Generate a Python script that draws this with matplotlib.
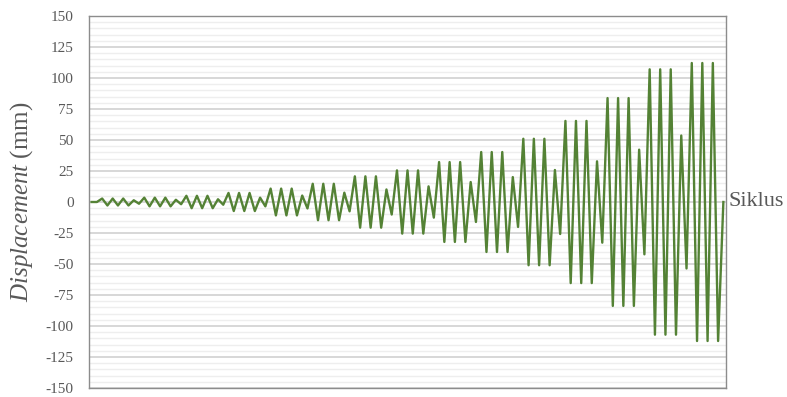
import matplotlib
matplotlib.use("Agg")
import matplotlib.pyplot as plt
from matplotlib.ticker import MultipleLocator

# Cyclic loading history: each level = 3 full cycles + 1 smaller cycle
lead_in = [0, 0]
level_1 = [2.8, -2.8, 2.8, -2.8, 2.8, -2.8, 1.4, -1.4]
level_2 = [3.5, -3.5, 3.5, -3.5, 3.5, -3.5, 1.8, -1.8]
level_3 = [5.0, -5.0, 5.0, -5.0, 5.0, -5.0, 2.2, -2.2]
level_4 = [7.3, -7.3, 7.3, -7.3, 7.3, -7.3, 3.5, -3.5]
level_5 = [10.8, -10.8, 10.8, -10.8, 10.8, -10.8, 5.2, -5.2]
level_6 = [14.7, -14.7, 14.7, -14.7, 14.7, -14.7, 7.5, -7.5]
level_7 = [20.7, -20.7, 20.7, -20.7, 20.7, -20.7, 10.1, -10.1]
level_8 = [25.5, -25.5, 25.5, -25.5, 25.5, -25.5, 12.6, -12.6]
level_9 = [32.2, -32.2, 32.2, -32.2, 32.2, -32.2, 16.1, -16.1]
level_10 = [40.3, -40.3, 40.3, -40.3, 40.3, -40.3, 20.1, -20.1]
level_11 = [51.0, -51.0, 51.0, -51.0, 51.0, -51.0, 25.8, -25.8]
level_12 = [65.4, -65.4, 65.4, -65.4, 65.4, -65.4, 32.8, -32.8]
level_13 = [83.8, -83.8, 83.8, -83.8, 83.8, -83.8, 42.2, -42.2]
level_14 = [107.0, -107.0, 107.0, -107.0, 107.0, -107.0, 53.6, -53.6]
level_15 = [112.1, -112.1, 112.1, -112.1, 112.1, -112.1]
lead_out = [0]

displacement = (lead_in + level_1 + level_2 + level_3 + level_4 + level_5
                + level_6 + level_7 + level_8 + level_9 + level_10 + level_11
                + level_12 + level_13 + level_14 + level_15 + lead_out)
steps = list(range(len(displacement)))

y_ticks = list(range(-150, 151, 25))

plt.rcParams["font.family"] = ["Liberation Serif", "DejaVu Serif"]
plt.rcParams["mathtext.fontset"] = "custom"
plt.rcParams["mathtext.it"] = "Liberation Serif:italic"
plt.rcParams["mathtext.rm"] = "Liberation Serif"

text_color = "#595959"

fig = plt.figure(figsize=(7.87, 3.97), dpi=100)
ax = fig.add_axes([89 / 787, 1 - 388 / 397, (726 - 89) / 787, (388 - 16) / 397])

ax.plot(steps, displacement, color="#548235", linewidth=1.7, zorder=3)

ax.set_xlim(-0.5, len(displacement) - 0.5)
ax.set_ylim(-150, 150)
ax.set_yticks(y_ticks)
ax.set_yticklabels([str(t) for t in y_ticks])
ax.yaxis.set_minor_locator(MultipleLocator(5))
ax.set_xticks([])

ax.grid(True, which="major", axis="y", color="#d4d4d4", linewidth=1.3, zorder=1)
ax.grid(True, which="minor", axis="y", color="#eeeeee", linewidth=1.0, zorder=0)
ax.set_axisbelow(True)

for side in ["left", "right", "top", "bottom"]:
    ax.spines[side].set_color("#8c8c8c")
    ax.spines[side].set_linewidth(1.0)

ax.tick_params(axis="y", which="both", length=0, pad=11, labelsize=11,
               labelcolor=text_color)

ax.set_ylabel(r"$\it{Displacement}$ (mm)", fontsize=18, color=text_color,
              labelpad=8)

ax.text(1.004, 0, "Siklus", transform=ax.get_yaxis_transform(),
        fontsize=16, color=text_color, ha="left", va="center")

fig.savefig("out.png", dpi=100)
